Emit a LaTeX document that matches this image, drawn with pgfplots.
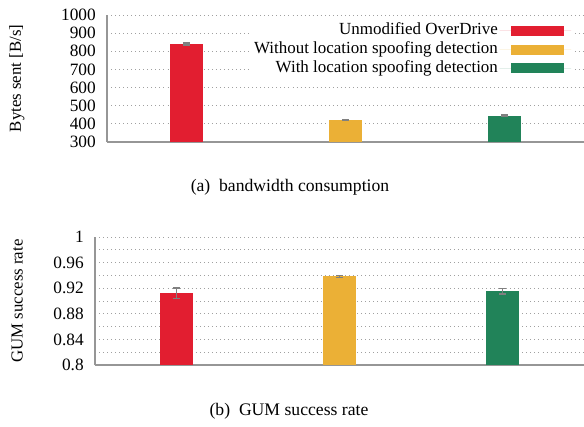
\documentclass[border=0pt]{standalone}
\usepackage{fontspec}
\setmainfont{Liberation Serif}
\usepackage{pgfplots}
\pgfplotsset{compat=1.18}
\definecolor{cred}{RGB}{226,30,48}
\definecolor{cyel}{RGB}{235,176,54}
\definecolor{cgrn}{RGB}{33,131,89}
\definecolor{axgray}{RGB}{150,150,150}
\definecolor{gridgray}{RGB}{160,160,160}
\pgfplotsset{
  mybar/.style={
    scale only axis, ybar, bar width=19.6pt, bar shift=0pt,
    xmin=-0.5, xmax=2.5, xtick=\empty,
    axis x line*=bottom, axis y line*=left,
    axis line style={axgray, line width=0.9pt, -},
    ymajorgrids, yminorgrids,
    major grid style={dotted, gridgray, line width=0.5pt},
    minor grid style={dotted, gridgray, line width=0.5pt},
    major tick length=0pt, minor tick length=0pt,
    /pgf/number format/assume math mode=true,
    /pgf/number format/1000 sep={},
    y tick label style={font=\fontsize{10.3}{12}\selectfont, inner sep=0pt, xshift=-6.5pt},
    label style={font=\fontsize{10}{12}\selectfont},
    error bars/y dir=both, error bars/y explicit,
    error bars/error bar style={gray, line width=0.8pt},
    error bars/error mark options={rotate=90, gray, mark size=2pt, line width=0.8pt},
  },
}
\begin{document}
\begin{tikzpicture}
\path[use as bounding box] (0,0) rectangle (347.6pt,-253.6pt);
\begin{axis}[mybar,
  at={(63.7pt,-84.5pt)}, anchor=south west,
  width=283.9pt, height=75.6pt,
  ymin=300, ymax=1000, ytick={300,400,...,1000},
  ylabel={Bytes sent [B/s]},
  ylabel style={at={(axis description cs:-0.189,0.5)}, anchor=center, rotate=0},
  legend plot pos=right,
  legend cell align=right,
  legend style={draw=none, fill=white, at={(0.977,0.965)}, anchor=north east,
    font=\fontsize{10.1}{12}\selectfont, row sep=0pt, inner sep=1pt,
    nodes={inner sep=1pt, text height=7pt, text depth=2.2pt}},
  legend image code/.code={\path (0pt,0pt) -- (42.5pt,0pt); \fill[#1] (6.5pt,-2.97pt) rectangle (38.6pt,2.97pt);},
]
\addplot[fill=cred, draw=none] coordinates {(0,840) +- (0,5)};
\addplot[fill=cyel, draw=none] coordinates {(1,421) +- (0,4)};
\addplot[fill=cgrn, draw=none] coordinates {(2,444) +- (0,5)};
\legend{Unmodified OverDrive, Without location spoofing detection, With location spoofing detection}
\end{axis}
\begin{axis}[mybar,
  at={(56.5pt,-217.3pt)}, anchor=south west,
  width=291.1pt, height=76.2pt,
  ymin=0.8, ymax=1, ytick={0.8,0.84,0.88,0.92,0.96,1},
  minor ytick={0.82,0.86,0.90,0.94,0.98},
  yticklabel style={/pgf/number format/fixed, /pgf/number format/precision=2},
  ylabel={GUM success rate},
  ylabel style={at={(axis description cs:-0.159,0.5)}, anchor=center, rotate=0},
]
\addplot[fill=cred, draw=none] coordinates {(0,0.9125) +- (0,0.008)};
\addplot[fill=cyel, draw=none] coordinates {(1,0.9385) +- (0,0.0015)};
\addplot[fill=cgrn, draw=none] coordinates {(2,0.9155) +- (0,0.0045)};
\end{axis}
\node[font=\fontsize{10.5}{12}\selectfont] at (172.6pt,-111.5pt) {(a)~~bandwidth consumption};
\node[font=\fontsize{10.5}{12}\selectfont] at (172pt,-244.5pt) {(b)~~GUM success rate};
\end{tikzpicture}
\end{document}
